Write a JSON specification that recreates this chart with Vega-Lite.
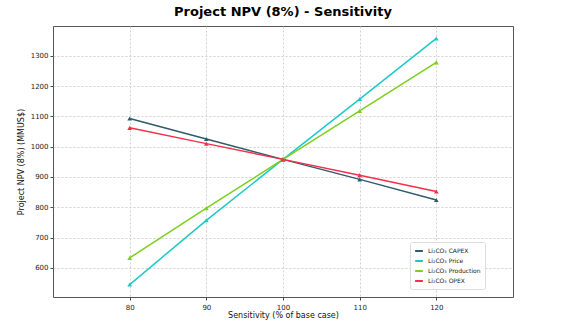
{
  "$schema": "https://vega.github.io/schema/vega-lite/v6.json",
  "width": 460,
  "height": 271,
  "autosize": {"type": "none"},
  "padding": {"left": 53, "top": 26, "right": 54, "bottom": 28},
  "background": "white",
  "title": {"text": "Project NPV (8%) - Sensitivity", "font": "DejaVu Sans", "fontSize": 13, "fontWeight": "bold", "color": "#000000", "anchor": "middle", "offset": 7},
  "config": {
    "font": "DejaVu Sans",
    "view": {"stroke": "#555555", "strokeWidth": 1}
  },
  "data": {"values": [
    {"s": 80, "series": "Li₂CO₃ CAPEX", "npv": 1093},
    {"s": 90, "series": "Li₂CO₃ CAPEX", "npv": 1025},
    {"s": 100, "series": "Li₂CO₃ CAPEX", "npv": 958},
    {"s": 110, "series": "Li₂CO₃ CAPEX", "npv": 892},
    {"s": 120, "series": "Li₂CO₃ CAPEX", "npv": 824},
    {"s": 80, "series": "Li₂CO₃ Price", "npv": 545},
    {"s": 90, "series": "Li₂CO₃ Price", "npv": 757},
    {"s": 100, "series": "Li₂CO₃ Price", "npv": 958},
    {"s": 110, "series": "Li₂CO₃ Price", "npv": 1157},
    {"s": 120, "series": "Li₂CO₃ Price", "npv": 1357},
    {"s": 80, "series": "Li₂CO₃ Production", "npv": 633},
    {"s": 90, "series": "Li₂CO₃ Production", "npv": 797},
    {"s": 100, "series": "Li₂CO₃ Production", "npv": 958},
    {"s": 110, "series": "Li₂CO₃ Production", "npv": 1118},
    {"s": 120, "series": "Li₂CO₃ Production", "npv": 1278},
    {"s": 80, "series": "Li₂CO₃ OPEX", "npv": 1062},
    {"s": 90, "series": "Li₂CO₃ OPEX", "npv": 1010},
    {"s": 100, "series": "Li₂CO₃ OPEX", "npv": 958},
    {"s": 110, "series": "Li₂CO₃ OPEX", "npv": 906},
    {"s": 120, "series": "Li₂CO₃ OPEX", "npv": 852}
  ]},
  "mark": {"type": "line", "strokeWidth": 1.5, "point": {"shape": "triangle-up", "size": 22, "filled": true}},
  "encoding": {
    "x": {"field": "s", "type": "quantitative", "scale": {"domain": [70, 130], "nice": false, "zero": false},
      "axis": {"title": "Sensitivity (% of base case)", "values": [80, 90, 100, 110, 120], "format": "d", "grid": true, "gridDash": [2, 2], "gridColor": "#d0d0d0", "domain": false, "tickColor": "#444", "tickSize": 3, "labelFontSize": 7, "labelColor": "#222", "titleFontSize": 8, "titleFontWeight": "normal", "titleColor": "#111", "titlePadding": 1, "labelPadding": 3}},
    "y": {"field": "npv", "type": "quantitative", "scale": {"domain": [504, 1398], "nice": false, "zero": false},
      "axis": {"title": "Project NPV (8%) (MMUS$)", "values": [600, 700, 800, 900, 1000, 1100, 1200, 1300], "format": "d", "grid": true, "gridDash": [2, 2], "gridColor": "#d0d0d0", "domain": false, "tickColor": "#444", "tickSize": 3, "labelFontSize": 7, "labelColor": "#222", "titleFontSize": 8, "titleFontWeight": "normal", "titleColor": "#111", "titlePadding": 5, "labelPadding": 2}},
    "color": {"field": "series", "type": "nominal",
      "scale": {"domain": ["Li₂CO₃ CAPEX", "Li₂CO₃ Price", "Li₂CO₃ Production", "Li₂CO₃ OPEX"], "range": ["#2e5c6a", "#1ec8c8", "#7ccf1c", "#f2304c"]},
      "legend": {"title": null, "orient": "none", "legendX": 357, "legendY": 216, "symbolType": "stroke", "symbolStrokeWidth": 2, "symbolSize": 60, "labelFontSize": 6, "labelColor": "#222", "rowPadding": 1, "padding": 4, "labelOffset": 4, "strokeColor": "#dddddd", "fillColor": "white", "cornerRadius": 2}}
  }
}
